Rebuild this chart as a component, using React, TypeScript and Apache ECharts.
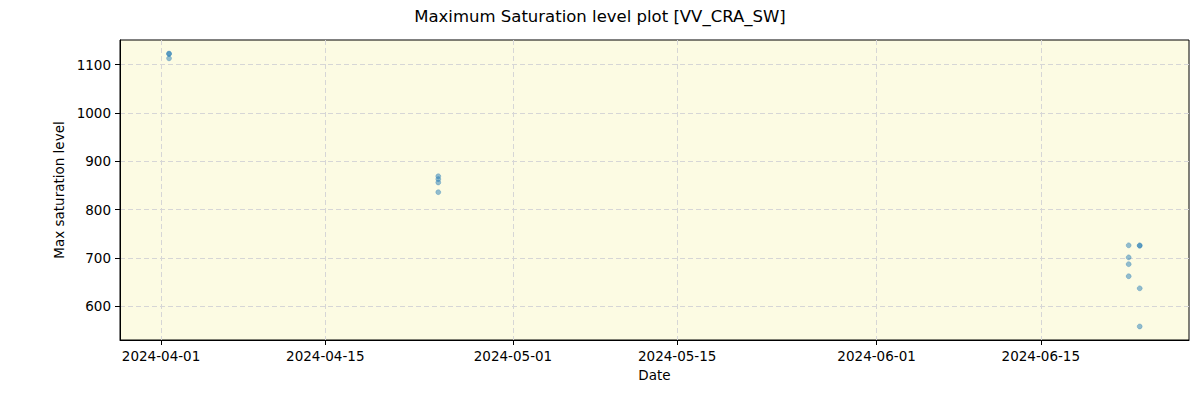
import React, { useEffect, useRef } from 'react';
import * as echarts from 'echarts';

// measurement times and max saturation levels
const sampleTimes = [
  '2024-04-01 16:20', '2024-04-01 16:20', '2024-04-01 16:20',
  '2024-04-24 15:10', '2024-04-24 15:10', '2024-04-24 15:10', '2024-04-24 15:10',
  '2024-06-22 11:45', '2024-06-22 11:45', '2024-06-22 11:45', '2024-06-22 11:45',
  '2024-06-23 10:20', '2024-06-23 10:20', '2024-06-23 10:20', '2024-06-23 10:20',
];
const maxSaturation = [
  1123, 1122, 1113,
  869, 863, 856, 836,
  726, 701, 687, 662,
  726, 725, 637, 558,
];

const xTickLabels = ['2024-04-01', '2024-04-15', '2024-05-01', '2024-05-15', '2024-06-01', '2024-06-15'];
const yTicks = [600, 700, 800, 900, 1000, 1100];

const xRange = ['2024-03-28 12:00', '2024-06-27 15:10'];
const yRange = [530, 1151];

const toTime = (s: string) => {
  const [d, t] = s.split(' ');
  const [y, m, day] = d.split('-').map(Number);
  const [hh, mm] = (t || '00:00').split(':').map(Number);
  return new Date(y, m - 1, day, hh, mm).getTime();
};

const pad = (n: number) => (n < 10 ? '0' + n : '' + n);
const fmtDate = (v: number) => {
  const d = new Date(v);
  return `${d.getFullYear()}-${pad(d.getMonth() + 1)}-${pad(d.getDate())}`;
};

const FONT = 'DejaVu Sans';
const gridLine = { show: true, lineStyle: { color: '#d6d6d6', type: [5, 3], width: 1 } };

const App: React.FC = () => {
  const chartRef = useRef<HTMLDivElement>(null);

  useEffect(() => {
    if (!chartRef.current) return;
    const chart = echarts.init(chartRef.current, undefined, { renderer: 'svg' });
    const xTicks = xTickLabels.map(toTime);

    chart.setOption({
      animation: false,
      backgroundColor: '#ffffff',
      textStyle: { fontFamily: FONT },
      title: {
        text: 'Maximum Saturation level plot [VV_CRA_SW]',
        left: 'center',
        top: 3,
        textStyle: { fontFamily: FONT, fontSize: 16.5, fontWeight: 'normal', color: '#000' },
      },
      grid: {
        left: 120,
        right: 11,
        top: 40,
        bottom: 60,
        show: true,
        backgroundColor: '#fcfbe3',
        borderColor: '#000',
        borderWidth: 1,
      },
      xAxis: {
        type: 'value',
        min: toTime(xRange[0]),
        max: toTime(xRange[1]),
        name: 'Date',
        nameLocation: 'middle',
        nameGap: 28,
        nameTextStyle: { fontFamily: FONT, fontSize: 13.5, color: '#000' },
        axisLine: { show: true, lineStyle: { color: '#000', width: 1 } },
        axisTick: { show: true, length: 5, customValues: xTicks, lineStyle: { color: '#000' } },
        axisLabel: {
          customValues: xTicks,
          formatter: (v: number) => fmtDate(v),
          margin: 9,
          fontFamily: FONT,
          fontSize: 13.5,
          color: '#000',
        },
        splitLine: gridLine,
      },
      yAxis: {
        type: 'value',
        min: yRange[0],
        max: yRange[1],
        name: 'Max saturation level',
        nameLocation: 'middle',
        nameGap: 50,
        nameTextStyle: { fontFamily: FONT, fontSize: 13.5, color: '#000' },
        axisLine: { show: true, lineStyle: { color: '#000', width: 1 } },
        axisTick: { show: true, length: 5, customValues: yTicks, lineStyle: { color: '#000' } },
        axisLabel: {
          customValues: yTicks,
          formatter: (v: number) => String(v),
          margin: 9,
          fontFamily: FONT,
          fontSize: 13.5,
          color: '#000',
        },
        splitLine: gridLine,
      },
      series: [
        {
          type: 'scatter',
          symbolSize: 5,
          itemStyle: {
            color: 'rgba(31,119,180,0.6)',
            borderColor: 'rgba(31,119,180,0.6)',
            borderWidth: 0.6,
          },
          data: sampleTimes.map((t, i) => [toTime(t), maxSaturation[i]]),
        },
      ],
    });

    return () => {
      chart.dispose();
    };
  }, []);

  return (
    <div
      ref={chartRef}
      style={{ position: 'fixed', left: 0, top: 0, width: 1200, height: 400 }}
    />
  );
};

export default App;
